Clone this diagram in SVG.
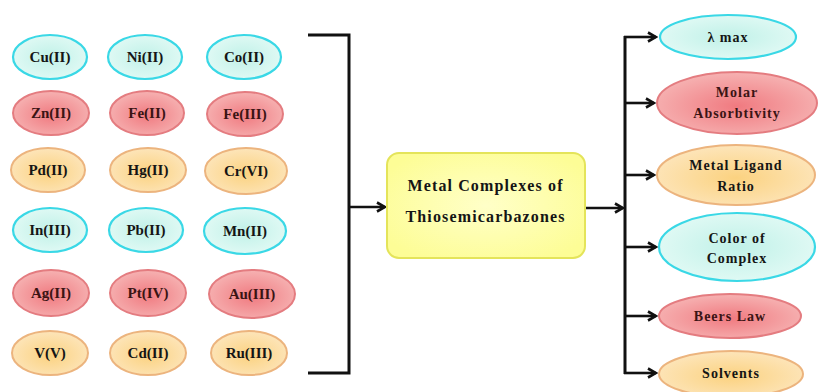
<svg xmlns="http://www.w3.org/2000/svg" width="819" height="392" viewBox="0 0 819 392">
<defs>
<radialGradient id="gc" cx="50%" cy="50%" r="55%"><stop offset="0" stop-color="#c0f1e8"/><stop offset="1" stop-color="#e2faf5"/></radialGradient>
<radialGradient id="gr" cx="50%" cy="55%" r="55%"><stop offset="0" stop-color="#f07a80"/><stop offset="1" stop-color="#f6b2b2"/></radialGradient>
<radialGradient id="go" cx="50%" cy="55%" r="55%"><stop offset="0" stop-color="#fbd280"/><stop offset="1" stop-color="#fde5ba"/></radialGradient>
<radialGradient id="gy" cx="50%" cy="50%" r="60%"><stop offset="0" stop-color="#ffffc8"/><stop offset="1" stop-color="#fdfd96"/></radialGradient>
<marker id="arr" markerWidth="12" markerHeight="12" refX="10" refY="6" orient="auto" markerUnits="userSpaceOnUse"><path d="M2,1.5 L10,6 L2,10.5" fill="none" stroke="#111" stroke-width="2.6"/></marker>
</defs>
<style>
.c{fill:url(#gc);stroke:#3ad8e6;stroke-width:2.2}
.r{fill:url(#gr);stroke:#e47c80;stroke-width:2}
.o{fill:url(#go);stroke:#ecb47e;stroke-width:2}
.t{font-family:"Liberation Serif","Times New Roman",serif;font-weight:bold;font-size:15px;fill:#151515;text-anchor:middle}
.s{font-size:14px;letter-spacing:1px}
.tr{fill:#3a1414}
.ln{fill:none;stroke:#111;stroke-width:3}
.ar{fill:none;stroke:#111;stroke-width:2.6;marker-end:url(#arr)}
</style>
<rect width="819" height="392" fill="#fff"/>

<g id="connectors">
<path class="ln" d="M308,35 H349 V373 H308"/>
<path class="ar" d="M349,207 H385"/>
<path class="ar" d="M585,208 H623"/>
<path class="ln" d="M625,36 V374"/>
<path class="ar" d="M624,37 H656"/>
<path class="ar" d="M624,103 H654"/>
<path class="ar" d="M624,175 H654"/>
<path class="ar" d="M624,247 H656"/>
<path class="ar" d="M624,316 H656"/>
<path class="ar" d="M624,373 H656"/>
</g>

<g id="n-cu"><ellipse class="c" cx="50" cy="57" rx="37" ry="22"/><text class="t" x="50" y="62">Cu(II)</text></g>
<g id="n-ni"><ellipse class="c" cx="145" cy="57" rx="37" ry="22"/><text class="t" x="145" y="62">Ni(II)</text></g>
<g id="n-co"><ellipse class="c" cx="244" cy="57" rx="37" ry="22"/><text class="t" x="244" y="62">Co(II)</text></g>

<g id="n-zn"><ellipse class="r" cx="51" cy="113" rx="38" ry="22"/><text class="t tr" x="51" y="118">Zn(II)</text></g>
<g id="n-fe2"><ellipse class="r" cx="147" cy="113" rx="37" ry="22"/><text class="t tr" x="147" y="118">Fe(II)</text></g>
<g id="n-fe3"><ellipse class="r" cx="245" cy="114" rx="38" ry="22"/><text class="t tr" x="245" y="119">Fe(III)</text></g>

<g id="n-pd"><ellipse class="o" cx="48" cy="170" rx="37" ry="22"/><text class="t" x="48" y="175">Pd(II)</text></g>
<g id="n-hg"><ellipse class="o" cx="148" cy="170" rx="38" ry="22"/><text class="t" x="148" y="175">Hg(II)</text></g>
<g id="n-cr"><ellipse class="o" cx="246" cy="171" rx="41" ry="23"/><text class="t" x="246" y="176">Cr(VI)</text></g>

<g id="n-in"><ellipse class="c" cx="50" cy="230" rx="37" ry="22"/><text class="t" x="50" y="235">In(III)</text></g>
<g id="n-pb"><ellipse class="c" cx="146" cy="230" rx="37" ry="22"/><text class="t" x="146" y="235">Pb(II)</text></g>
<g id="n-mn"><ellipse class="c" cx="245" cy="231" rx="41" ry="23"/><text class="t" x="245" y="236">Mn(II)</text></g>

<g id="n-ag"><ellipse class="r" cx="51" cy="293" rx="38" ry="23"/><text class="t tr" x="51" y="298">Ag(II)</text></g>
<g id="n-pt"><ellipse class="r" cx="148" cy="293" rx="38" ry="23"/><text class="t tr" x="148" y="298">Pt(IV)</text></g>
<g id="n-au"><ellipse class="r" cx="252" cy="294" rx="43" ry="24"/><text class="t tr" x="252" y="299">Au(III)</text></g>

<g id="n-v"><ellipse class="o" cx="50" cy="353" rx="38" ry="22"/><text class="t" x="50" y="358">V(V)</text></g>
<g id="n-cd"><ellipse class="o" cx="148" cy="353" rx="38" ry="22"/><text class="t" x="148" y="358">Cd(II)</text></g>
<g id="n-ru"><ellipse class="o" cx="249" cy="353" rx="38" ry="22"/><text class="t" x="249" y="358">Ru(III)</text></g>

<g id="n-center">
<rect x="387" y="153" width="198" height="105" rx="12" ry="12" fill="url(#gy)" stroke="#e4e45a" stroke-width="2"/>
<text class="t" x="485" y="191" textLength="155" lengthAdjust="spacing" style="font-size:16px">Metal Complexes of</text>
<text class="t" x="485" y="222" textLength="159" lengthAdjust="spacing" style="font-size:16px">Thiosemicarbazones</text>
</g>

<g id="n-lmax"><ellipse class="c" cx="728" cy="37" rx="68" ry="22"/><text class="t s" x="728" y="42">λ max</text></g>
<g id="n-molar"><ellipse class="r" cx="737" cy="103" rx="80" ry="31"/><text class="t s tr" x="737" y="97">Molar</text><text class="t s tr" x="737" y="118">Absorbtivity</text></g>
<g id="n-ratio"><ellipse class="o" cx="736" cy="175" rx="79" ry="30"/><text class="t s" x="736" y="170">Metal Ligand</text><text class="t s" x="736" y="191">Ratio</text></g>
<g id="n-color"><ellipse class="c" cx="737" cy="247" rx="78" ry="34"/><text class="t s" x="737" y="243">Color of</text><text class="t s" x="737" y="263">Complex</text></g>
<g id="n-beers"><ellipse class="r" cx="730" cy="316" rx="71" ry="22"/><text class="t s tr" x="730" y="321">Beers Law</text></g>
<g id="n-solv"><ellipse class="o" cx="731" cy="374" rx="72" ry="23"/><text class="t s" x="731" y="378">Solvents</text></g>
</svg>
